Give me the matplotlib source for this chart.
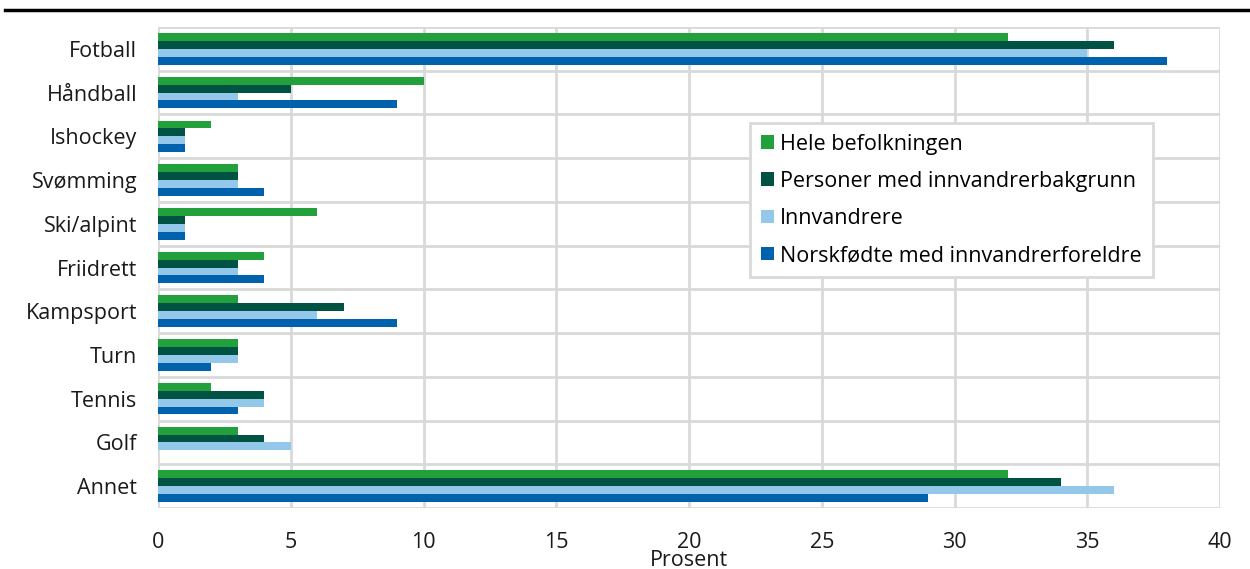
import numpy as np
import matplotlib.pyplot as plt
from matplotlib.lines import Line2D

plt.rcParams['font.family'] = ['Open Sans', 'DejaVu Sans']

categories = ["Fotball", "Håndball", "Ishockey", "Svømming", "Ski/alpint",
              "Friidrett", "Kampsport", "Turn", "Tennis", "Golf", "Annet"]
series_names = ["Hele befolkningen", "Personer med innvandrerbakgrunn",
                "Innvandrere", "Norskfødte med innvandrerforeldre"]
hele = [32, 10, 2, 3, 6, 4, 3, 3, 2, 3, 32]
innv_bakgrunn = [36, 5, 1, 3, 1, 3, 7, 3, 4, 4, 34]
innvandrere = [35, 3, 1, 3, 1, 3, 6, 3, 4, 5, 36]
norskfodte = [38, 9, 1, 4, 1, 4, 9, 2, 3, 0, 29]
colors = ["#21a03b", "#005243", "#93c8eb", "#0062ad"]
xticks = [0, 5, 10, 15, 20, 25, 30, 35, 40]

fig = plt.figure(figsize=(12.5, 5.69), dpi=100)
ax = fig.add_axes([0.1264, 0.1072, 0.8496, 0.8453])

y = np.arange(len(categories))
h = 0.18
for i, vals in enumerate([hele, innv_bakgrunn, innvandrere, norskfodte]):
    ax.barh(y + (i - 1.5) * h, vals, height=h, color=colors[i],
            label=series_names[i], zorder=3)

grid_c = "#d9d9d9"
for k in range(len(categories) + 1):
    ax.axhline(k - 0.5, color=grid_c, lw=2, zorder=1)
for xv in xticks:
    ax.axvline(xv, color=grid_c, lw=2, zorder=1)

fs = 15.5
ax.set_xlim(0, 40)
ax.set_ylim(len(categories) - 0.5, -0.5)
ax.set_xticks(xticks)
ax.set_yticks(y)
ax.set_yticklabels(categories)
for s in ax.spines.values():
    s.set_visible(False)
ax.tick_params(length=0, labelsize=fs, colors="#1a1a1a")
ax.tick_params(axis='x', pad=17)
ax.tick_params(axis='y', pad=15)
ax.set_xlabel("Prosent", fontsize=fs, labelpad=-2, color="#1a1a1a")

leg = ax.legend(loc="upper left", bbox_to_anchor=(750 / 1250, 1 - 123 / 569),
                bbox_transform=fig.transFigure, fontsize=fs, frameon=True,
                fancybox=False, edgecolor=grid_c, framealpha=1,
                handlelength=0.6, handleheight=0.6, handletextpad=0.3,
                labelspacing=0.75, borderpad=0.5, borderaxespad=0)
leg.get_frame().set_linewidth(2)

# cropped title and rule at the top
fig.text(0.01, 1 + 5.5 / 569, "Figur 4. Medlemskap, etter type idrett og gruppe",
         fontsize=15, fontweight="bold", va="baseline", ha="left")
fig.add_artist(Line2D([0.004, 1.0], [1 - 10 / 569, 1 - 10 / 569],
                      color="black", lw=2.5, transform=fig.transFigure))

fig.savefig("out.png", dpi=100)
